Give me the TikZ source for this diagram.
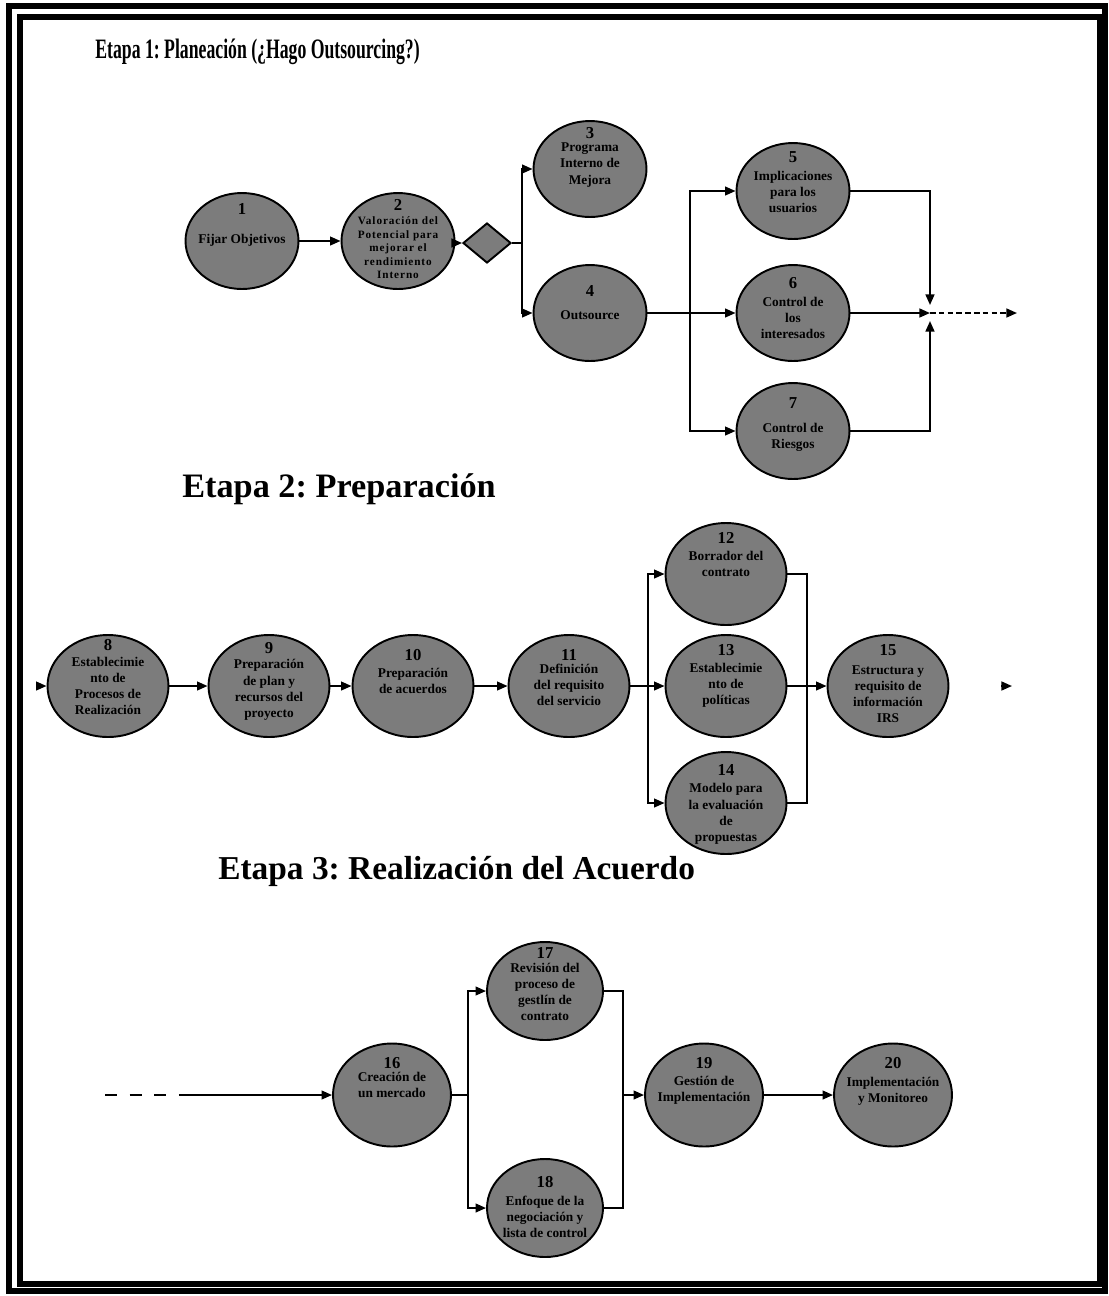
\documentclass[tikz,border=0pt]{standalone}
\usepackage{fontspec}
\setmainfont{Liberation Serif}
\usepackage{graphicx}
\usetikzlibrary{shapes.geometric,arrows.meta}
\definecolor{procfill}{RGB}{124,124,124}
\frenchspacing

% one process step: ellipse, its number and its caption
% #1 name, #2 ellipse style, #3 x, #4 y, #5 number, #6 number y, #7 caption y, #8 caption
\newcommand{\procnode}[8]{%
  \node[#2] (#1) at (#3,#4) {};
  \node[numtxt] (#1num) at (#3,#6) {#5};
  \node[bodytxt] (#1txt) at (#3,#7) {#8};
}

\tikzset{
  procbase/.style={ellipse, draw=black, line width=1.1pt, fill=procfill, inner sep=0pt},
  procA/.style={procbase, minimum width=2.26cm, minimum height=1.92cm},
  procB/.style={procbase, minimum width=2.42cm, minimum height=2.04cm},
  procC/.style={procbase, minimum width=2.36cm, minimum height=2.06cm},
  procD/.style={procbase, minimum width=2.32cm, minimum height=1.96cm},
  numtxt/.style={font=\bfseries\fontsize{9.5}{10}\selectfont, inner sep=0pt},
  bodytxt/.style={font=\bfseries\fontsize{7.6}{9.2}\selectfont, align=center, inner sep=0pt},
  smalltxt/.style={font=\bfseries\fontsize{6.4}{7.7}\selectfont\addfontfeatures{LetterSpace=8}, align=center, inner sep=0pt},
  decision/.style={diamond, draw=black, line width=1.1pt, fill=procfill, inner sep=0pt,
    minimum width=0.96cm, minimum height=0.80cm, aspect=1.2},
  link/.style={line width=1.1pt},
  flow/.style={line width=1.1pt, -{Triangle[length=6pt,width=5pt]}},
  heading/.style={font=\bfseries, anchor=base west, inner sep=0pt},
}

\begin{document}
\begin{tikzpicture}[x=0.02cm, y=-0.02cm]
  \useasboundingbox (0,0) rectangle (1109,1296);
  \fill[white] (0,0) rectangle (1109,1296);

  % double frame
  \draw[line width=3.2pt] (9,6) rectangle (1105,1291);
  \draw[line width=3pt] (20,17) rectangle (1100,1284);

  % headings
  \node[heading] (h1) at (95,58) {\scalebox{0.63}[1]{\fontsize{16}{16}\selectfont Etapa 1: Planeación (¿Hago Outsourcing?)}};
  \node[heading, font=\bfseries\fontsize{19.5}{20}\selectfont] (h2) at (182,497) {Etapa 2: Preparación};
  \node[heading, font=\bfseries\fontsize{19}{20}\selectfont] (h3) at (218,879) {Etapa 3: Realización del Acuerdo};

  % ---- Etapa 1 ----
  \procnode{n1}{procA}{242}{241}{1}{209}{240}{Fijar Objetivos}
  \node[procA] (n2) at (398,241) {};
  \node[numtxt] (n2num) at (398,205) {2};
  \node[smalltxt] (n2txt) at (398,248) {Valoración del\\Potencial para\\mejorar el\\rendimiento\\Interno};
  \node[decision] (dec) at (487,243) {};
  \procnode{n3}{procA}{590}{169}{3}{133}{165}{Programa\\Interno de\\Mejora}
  \procnode{n4}{procA}{590}{313}{4}{291}{315}{Outsource}
  \procnode{n5}{procA}{793}{191}{5}{157}{192}{Implicaciones\\para los\\usuarios}
  \procnode{n6}{procA}{793}{313}{6}{283}{318}{Control de\\los\\interesados}
  \procnode{n7}{procA}{793}{431}{7}{403}{437}{Control de\\Riesgos}

  \coordinate (b1) at (522,243);
  \coordinate (s1) at (690,313);
  \coordinate (j1) at (930,313);
  \coordinate (j1up) at (930,305);
  \coordinate (j1dn) at (930,321);
  \coordinate (out1) at (1017,313);

  \draw[flow] (n1.east) -- (n2.west |- n1.east);
  \draw[flow] (n2.east |- dec.west) -- (dec.west);
  \draw[link] (dec.east) -- (b1);
  \draw[flow] (b1) |- (n3.west);
  \draw[flow] (b1) |- (n4.west);
  \draw[flow] (n4.east) -- (n6.west);
  \draw[flow] (s1) |- (n5.west);
  \draw[flow] (s1) |- (n7.west);
  \draw[flow] (n5.east) -| (j1up);
  \draw[flow] (n7.east) -| (j1dn);
  \draw[flow] (n6.east) -- (j1);
  \draw[flow, dash pattern=on 3.2pt off 1.8pt] (j1) -- (out1);

  % ---- Etapa 2 ----
  \procnode{n8}{procB}{108}{686}{8}{645}{686}{Establecimie\\nto de\\Procesos de\\Realización}
  \procnode{n9}{procB}{269}{686}{9}{648}{690}{Preparación\\de plan y\\recursos del\\proyecto}
  \procnode{n10}{procB}{413}{686}{10}{655}{681}{Preparación\\de acuerdos}
  \procnode{n11}{procB}{569}{686}{11}{655}{685}{Definición\\del requisito\\del servicio}
  \procnode{n12}{procB}{726}{574}{12}{538}{564}{Borrador del\\contrato}
  \procnode{n13}{procB}{726}{686}{13}{650}{685}{Establecimie\\nto de\\políticas}
  \procnode{n14}{procB}{726}{803}{14}{770}{814}{Modelo para\\la evaluación\\de\\propuestas}
  \procnode{n15}{procB}{888}{686}{15}{650}{694}{Estructura y\\requisito de\\información\\IRS}

  \coordinate (in8) at (38,686);
  \coordinate (s2) at (648,686);
  \coordinate (j2) at (807,686);
  \coordinate (t2a) at (1001,686);
  \coordinate (t2b) at (1012,686);

  \draw[flow] (in8) -- (n8.west);
  \draw[flow] (n8.east) -- (n9.west);
  \draw[flow] (n9.east) -- (n10.west);
  \draw[flow] (n10.east) -- (n11.west);
  \draw[flow] (n11.east) -- (n13.west);
  \draw[flow] (s2) |- (n12.west);
  \draw[flow] (s2) |- (n14.west);
  \draw[link] (n12.east) -| (j2);
  \draw[link] (n14.east) -| (j2);
  \draw[flow] (n13.east) -- (n15.west);
  \draw[flow] (t2a) -- (t2b);

  % ---- Etapa 3 ----
  \procnode{n16}{procC}{392}{1095}{16}{1063}{1085}{Creación de\\un mercado}
  \procnode{n17}{procD}{545}{991}{17}{953}{992}{Revisión del\\proceso de\\gestlín de\\contrato}
  \procnode{n18}{procD}{545}{1208}{18}{1182}{1217}{Enfoque de la\\negociación y\\lista de control}
  \procnode{n19}{procC}{704}{1095}{19}{1063}{1090}{Gestión de\\Implementación}
  \procnode{n20}{procC}{893}{1095}{20}{1063}{1091}{Implementación\\y Monitoreo}

  \coordinate (d0) at (105,1095);
  \coordinate (d1) at (188,1095);
  \coordinate (s3) at (468,1095);
  \coordinate (j3) at (623,1095);

  \draw[link, dash pattern=on 7pt off 7pt] (d0) -- (d1);
  \draw[flow] (d1) -- (n16.west);
  \draw[link] (n16.east) -- (s3);
  \draw[flow] (s3) |- (n17.west);
  \draw[flow] (s3) |- (n18.west);
  \draw[link] (n17.east) -| (j3);
  \draw[link] (n18.east) -| (j3);
  \draw[flow] (j3) -- (n19.west);
  \draw[flow] (n19.east) -- (n20.west);
\end{tikzpicture}
\end{document}
